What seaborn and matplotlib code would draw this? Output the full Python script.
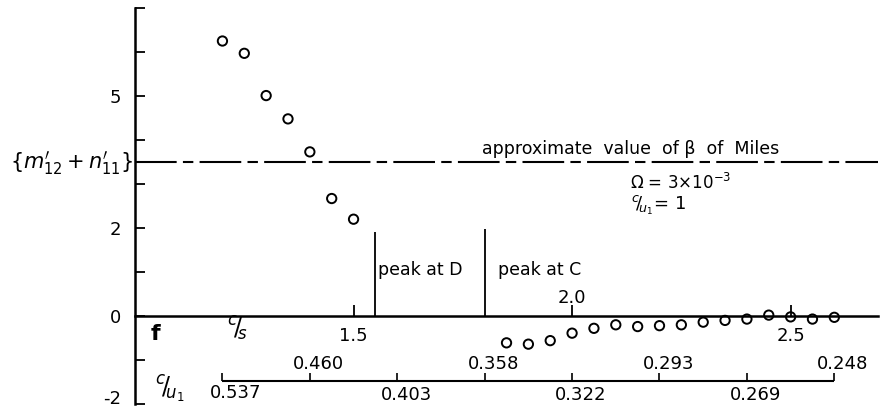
import pandas as pd
import matplotlib
matplotlib.use("Agg")
import matplotlib.pyplot as plt
import seaborn as sns

sns.set_theme(style="white")
plt.rcParams['font.family'] = ['DejaVu Sans']
plt.rcParams['mathtext.fontset'] = 'dejavusans'
plt.rcParams['text.color'] = 'black'
plt.rcParams['xtick.color'] = 'black'
plt.rcParams['ytick.color'] = 'black'

# c/s (phase speed ratio) and measured {m'12 + n'11}
cs_values = [1.20, 1.25, 1.30, 1.35, 1.40, 1.45, 1.50,
             1.85, 1.90, 1.95, 2.00, 2.05, 2.10, 2.15, 2.20, 2.25,
             2.30, 2.35, 2.40, 2.45, 2.50, 2.55, 2.60]
mn_values = [6.25, 5.97, 5.01, 4.48, 3.73, 2.67, 2.20,
             -0.61, -0.64, -0.56, -0.39, -0.28, -0.20, -0.24, -0.22, -0.20,
             -0.14, -0.10, -0.07, 0.02, -0.02, -0.07, -0.03]

# main c/s ticks
cs_ticks = [1.5, 2.0, 2.5]
cs_tick_labels = ["1.5", "2.0", "2.5"]

# secondary c/u1 scale (tick positions in c/s units)
cu_ticks = [1.2, 1.4, 1.6, 1.8, 2.0, 2.2, 2.4, 2.6]
cu_labels = ["0.537", "0.460", "0.403", "0.358", "0.322", "0.293", "0.269", "0.248"]

y_ticks = [-2, -1, 0, 1, 2, 3, 4, 5, 6, 7]
y_tick_labels = ["-2", "", "0", "", "2", "", "", "5", "", ""]

miles_beta = 3.5
peak_d = 1.55
peak_c = 1.80

df = pd.DataFrame({'cs': cs_values, 'mn': mn_values})

fig = plt.figure(figsize=(8.86, 4.13), dpi=100)
ax = fig.add_axes([0.1524, 0.0218, 0.8386, 0.9588])

sns.scatterplot(data=df, x='cs', y='mn', ax=ax, s=45, marker='o',
                facecolor='none', edgecolor='black', linewidth=1.4, zorder=3)

ax.set_xlim(1.0, 2.7)
ax.set_ylim(-2, 7)

# spines
for side in ['top', 'right']:
    ax.spines[side].set_visible(False)
ax.spines['left'].set_color('black')
ax.spines['left'].set_linewidth(1.8)
ax.spines['bottom'].set_position(('data', 0))
ax.spines['bottom'].set_color('black')
ax.spines['bottom'].set_linewidth(1.8)

ax.set_yticks(y_ticks)
ax.set_yticklabels(y_tick_labels, fontsize=13)
ax.tick_params(axis='y', left=True, direction='in', length=7, width=1.3, pad=10)
ax.set_xticks(cs_ticks)
ax.set_xticklabels([])
ax.tick_params(axis='x', bottom=True, direction='in', length=8, width=1.3)
ax.set_xlabel("")
ax.set_ylabel("")
# keep the -2 label inside the figure
ax.get_yticklabels()[0].set_va('baseline')

# main x tick labels (alternating)
for x, lab in zip(cs_ticks, cs_tick_labels):
    y = 0.42 if lab == "2.0" else -0.45
    ax.text(x, y, lab, ha='center', va='center', fontsize=13)

# Miles beta line
ax.axhline(miles_beta, color='black', lw=1.5, ls=(0, (20, 3, 5, 3)), zorder=1)
ax.text(1.795, miles_beta + 0.08, "approximate  value  of β  of  Miles",
        ha='left', va='bottom', fontsize=12.5)
ax.text(2.133, 3.02, r"$\Omega$ = 3×10$^{-3}$", ha='left', va='center', fontsize=12)
ax.text(2.135, 2.52, r"$^{c}\!/\!_{u_1}$= 1", ha='left', va='center', fontsize=13)

# peak markers
ax.vlines(peak_d, 0, 1.92, color='black', lw=1.3)
ax.vlines(peak_c, 0, 1.97, color='black', lw=1.3)
ax.text(peak_d + 0.007, 1.05, "peak at D", ha='left', va='center', fontsize=12.5)
ax.text(peak_c + 0.03, 1.05, "peak at C", ha='left', va='center', fontsize=12.5)

# secondary c/u1 scale
cu_y = -1.48
ax.hlines(cu_y, cu_ticks[0], cu_ticks[-1], color='black', lw=1.5)
ax.vlines(cu_ticks, cu_y, cu_y + 0.18, color='black', lw=1.2)
for i, (x, lab) in enumerate(zip(cu_ticks, cu_labels)):
    if i == 0:
        ax.text(x + 0.03, -1.75, lab, ha='center', va='center', fontsize=13)
    elif i % 2 == 1:
        ax.text(x + 0.02, -1.09, lab, ha='center', va='center', fontsize=13)
    else:
        ax.text(x + 0.02, -1.80, lab, ha='center', va='center', fontsize=13)

# axis names
ax.text(1.046, -0.40, "f", ha='center', va='center', fontsize=16, fontweight='bold')
ax.text(1.235, -0.30, r"$^{c}\!/\!_{s}$", ha='center', va='center', fontsize=17)
ax.text(1.080, -1.68, r"$^{c}\!/\!_{u_1}$", ha='center', va='center', fontsize=17)
fig.text(72 / 886, 1 - 163 / 413, r"$\{m_{12}^{\prime}+n_{11}^{\prime}\}$",
         ha='center', va='center', fontsize=15)

fig.savefig("out.png", dpi=100, facecolor='white')
